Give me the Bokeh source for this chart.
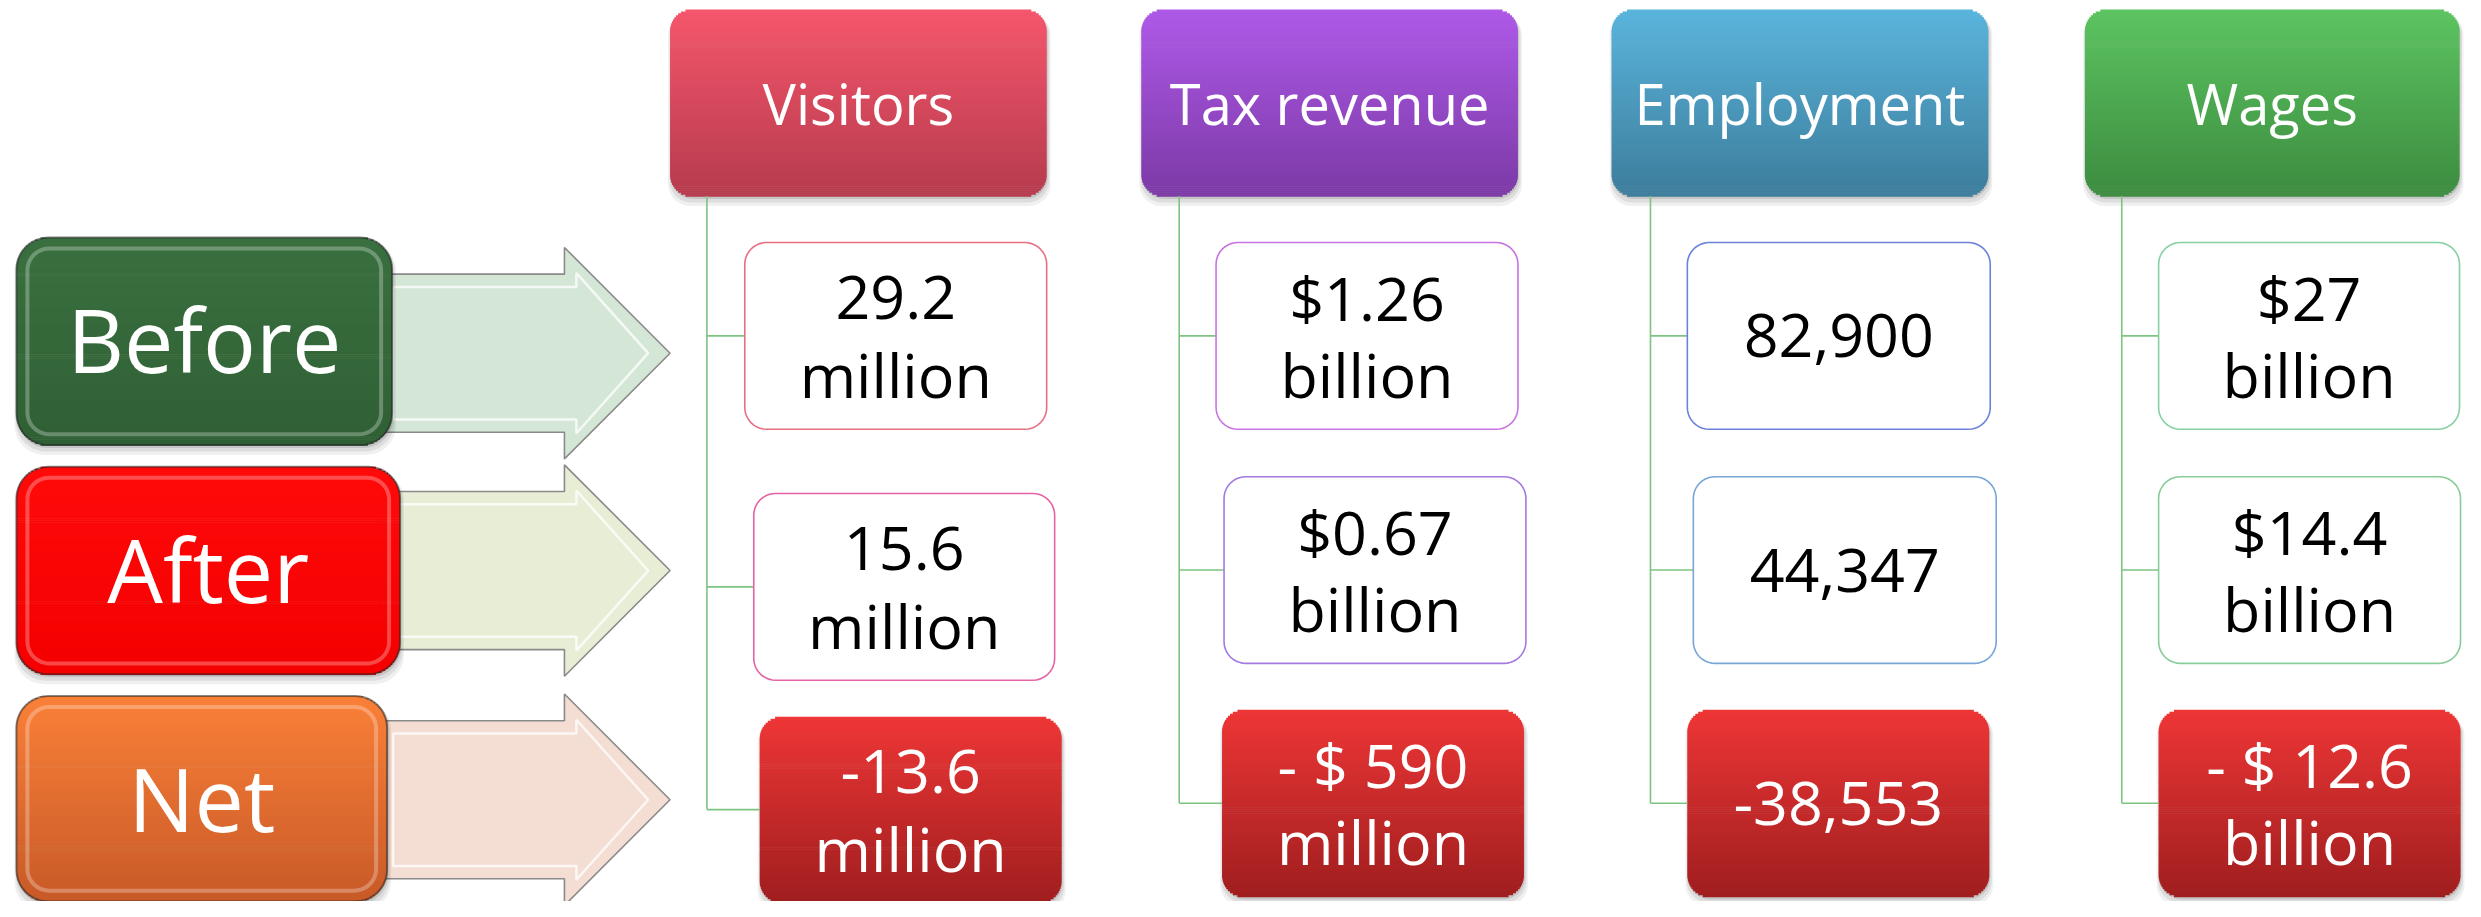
import math
from bokeh.plotting import figure
from bokeh.models import ColumnDataSource, Range1d
from bokeh.core.properties import value
from bokeh.embed import file_html
from bokeh.resources import INLINE

# ---------------- data ----------------
categories = ["Visitors", "Tax revenue", "Employment", "Wages"]
row_labels = ["Before", "After", "Net"]
before_vals = ["29.2\nmillion", "$1.26\nbillion", "82,900", "$27\nbillion"]
after_vals = ["15.6\nmillion", "$0.67\nbillion", "44,347", "$14.4\nbillion"]
net_vals = ["-13.6\nmillion", "- $ 590\nmillion", "-38,553", "- $ 12.6\nbillion"]

# ---------------- styles ----------------
header_top = ["#F5566C", "#AE59E8", "#5AB4DC", "#5CC460"]
header_bot = ["#B63B4D", "#7C3AA6", "#3D7D9C", "#3D8C40"]
border_before = ["#E8707E", "#C774E0", "#6A82DC", "#86D0A4"]
border_after = ["#E562A4", "#A57AE0", "#78A6D6", "#88CC98"]
row_top = ["#3A7040", "#FF0A0A", "#FA8038"]
row_bot = ["#2F6034", "#F40000", "#C85A28"]
arrow_fill = ["#D4E7D7", "#E8EDD6", "#F4DDD3"]
FONT = value("Open Sans")

W, H = 2465, 901
p = figure(width=W, height=H, x_range=Range1d(0, 2474), y_range=Range1d(912, 0),
           output_backend="svg", toolbar_location=None, min_border=0,
           x_axis_location=None, y_axis_location=None)
p.grid.visible = False
p.outline_line_color = None
p.background_fill_color = "white"


def hex2rgb(h):
    h = h.lstrip("#")
    return tuple(int(h[i:i + 2], 16) for i in (0, 2, 4))


def mix(c1, c2, t):
    a, b = hex2rgb(c1), hex2rgb(c2)
    return "#%02x%02x%02x" % tuple(int(round(a[i] + (b[i] - a[i]) * t)) for i in range(3))


def rr(x0, y0, x1, y1, r, n=10):
    xs, ys = [], []
    corners = [((x0 + r, y0 + r), math.pi, 1.5 * math.pi),
               ((x1 - r, y0 + r), 1.5 * math.pi, 2 * math.pi),
               ((x1 - r, y1 - r), 0, 0.5 * math.pi),
               ((x0 + r, y1 - r), 0.5 * math.pi, math.pi)]
    for (cx, cy), a0, a1 in corners:
        for k in range(n + 1):
            t = a0 + (a1 - a0) * k / n
            xs.append(cx + r * math.cos(t))
            ys.append(cy + r * math.sin(t))
    return xs, ys


strips = dict(left=[], right=[], top=[], bottom=[], color=[])


def grad(x0, y0, x1, y1, r, ctop, cbot, step=2.0):
    n = max(2, int((y1 - y0) / step))
    for i in range(n):
        ya = y0 + (y1 - y0) * i / n
        yb = y0 + (y1 - y0) * (i + 1) / n
        ym = (ya + yb) / 2
        inset = 0.0
        if ym < y0 + r:
            d = y0 + r - ym
            inset = r - math.sqrt(max(r * r - d * d, 0))
        elif ym > y1 - r:
            d = ym - (y1 - r)
            inset = r - math.sqrt(max(r * r - d * d, 0))
        strips["left"].append(x0 + inset)
        strips["right"].append(x1 - inset)
        strips["top"].append(ya)
        strips["bottom"].append(yb + 0.7)
        strips["color"].append(mix(ctop, cbot, i / (n - 1)))


shadows = dict(xs=[], ys=[], alpha=[])


def shadow(x0, y0, x1, y1, r):
    for off, grow, a in [(7, 3, 0.06), (5, 1.5, 0.08), (3, 0, 0.10)]:
        xs, ys = rr(x0 - grow + 1, y0 + off - grow, x1 + grow + 1, y1 + off + grow, r)
        shadows["xs"].append(xs)
        shadows["ys"].append(ys)
        shadows["alpha"].append(a)


# ---------------- layout ----------------
line_x = [709, 1183, 1656, 2129]
hdr_x = [(672, 1050), (1145, 1523), (1617, 1995), (2092, 2468)]
hdr_y = (9, 198)
box_x = [[(747, 1050), (1220, 1523), (1693, 1997), (2166, 2468)],
         [(756, 1058), (1228, 1531), (1699, 2003), (2166, 2469)],
         [(762, 1065), (1226, 1529), (1693, 1996), (2166, 2469)]]
box_y = [[(245, 434)] * 4,
         [(499, 688), (482, 671), (482, 671), (482, 671)],
         [(725, 913), (718, 907), (718, 907), (718, 907)]]
left_box = [(16, 240, 393, 450), (16, 472, 401, 682), (16, 704, 388, 912)]
arrow_yc = [357, 577, 809]

# ---------------- arrows ----------------
ax0, axh, axt, bh, hh = 380, 566, 672, 80, 107
arr_xs, arr_ys, in_xs, in_ys = [], [], [], []
for yc in arrow_yc:
    arr_xs.append([ax0, axh, axh, axt, axh, axh, ax0])
    arr_ys.append([yc - bh, yc - bh, yc - hh, yc, yc + hh, yc + bh, yc + bh])
    ib, ih = bh - 13, hh - 26
    in_xs.append([ax0 + 14, axh + 12, axh + 12, axt - 22, axh + 12, axh + 12, ax0 + 14, ax0 + 14])
    in_ys.append([yc - ib, yc - ib, yc - ih, yc, yc + ih, yc + ib, yc + ib, yc - ib])
p.patches(arr_xs, arr_ys, fill_color=arrow_fill, line_color="#8A8A8A", line_width=1.6)
p.multi_line(in_xs, in_ys, line_color="white", line_alpha=0.75, line_width=2.5)

# ---------------- shadows + gradients ----------------
for i in range(4):
    shadow(hdr_x[i][0], hdr_y[0], hdr_x[i][1], hdr_y[1], 22)
    shadow(box_x[2][i][0], box_y[2][i][0], box_x[2][i][1], box_y[2][i][1], 22)
for (x0, y0, x1, y1) in left_box:
    shadow(x0, y0, x1, y1, 30)
p.patches("xs", "ys", source=ColumnDataSource(shadows), fill_color="black",
          fill_alpha="alpha", line_color=None)

for i in range(4):
    grad(hdr_x[i][0], hdr_y[0], hdr_x[i][1], hdr_y[1], 22, header_top[i], header_bot[i])
    grad(box_x[2][i][0], box_y[2][i][0], box_x[2][i][1], box_y[2][i][1], 22, "#EE3636", "#A01E1F")
for k, (x0, y0, x1, y1) in enumerate(left_box):
    grad(x0, y0, x1, y1, 32, row_top[k], row_bot[k])
p.quad(left="left", right="right", top="top", bottom="bottom", source=ColumnDataSource(strips),
       fill_color="color", line_color=None)

# bevel for left boxes
bev_xs, bev_ys, out_xs, out_ys = [], [], [], []
for (x0, y0, x1, y1) in left_box:
    xs, ys = rr(x0 + 11, y0 + 11, x1 - 11, y1 - 11, 22)
    bev_xs.append(xs + [xs[0]]); bev_ys.append(ys + [ys[0]])
    xs, ys = rr(x0, y0, x1, y1, 32)
    out_xs.append(xs + [xs[0]]); out_ys.append(ys + [ys[0]])
p.multi_line(bev_xs, bev_ys, line_color="white", line_alpha=0.28, line_width=4)
p.multi_line(out_xs, out_ys, line_color="#222222", line_alpha=0.55, line_width=2)

# ---------------- connectors ----------------
conn_xs, conn_ys = [], []
for i in range(4):
    ymid_last = (box_y[2][i][0] + box_y[2][i][1]) / 2
    conn_xs.append([line_x[i], line_x[i]])
    conn_ys.append([hdr_y[1], ymid_last])
    for r in range(3):
        ym = (box_y[r][i][0] + box_y[r][i][1]) / 2
        conn_xs.append([line_x[i], box_x[r][i][0]])
        conn_ys.append([ym, ym])
p.multi_line(conn_xs, conn_ys, line_color="#7DC481", line_width=1.6)

# ---------------- white value boxes ----------------
wb_xs, wb_ys, wb_col = [], [], []
for r, cols in enumerate([border_before, border_after]):
    for i in range(4):
        xs, ys = rr(box_x[r][i][0], box_y[r][i][0], box_x[r][i][1], box_y[r][i][1], 22)
        wb_xs.append(xs); wb_ys.append(ys); wb_col.append(cols[i])
p.patches(wb_xs, wb_ys, fill_color="white", line_color=wb_col, line_width=1.6)

# ---------------- texts ----------------
p.text(x=[(a + b) / 2 for a, b in hdr_x], y=[104] * 4, text=categories,
       text_font=FONT, text_font_size="56px", text_color="white",
       text_align="center", text_baseline="middle")

p.text(x=[(b[0] + b[2]) / 2 for b in left_box], y=[343, 575, 807], text=row_labels,
       text_font=FONT, text_font_size="88px", text_color="white",
       text_align="center", text_baseline="middle")

tx, ty, tt, tc = [], [], [], []
for r, vals in enumerate([before_vals, after_vals, net_vals]):
    for i in range(4):
        cx = (box_x[r][i][0] + box_x[r][i][1]) / 2
        cy = (box_y[r][i][0] + box_y[r][i][1]) / 2
        lines = vals[i].split("\n")
        offs = [0] if len(lines) == 1 else [-39, 39]
        for ln, o in zip(lines, offs):
            tx.append(cx); ty.append(cy + o); tt.append(ln)
            tc.append("white" if r == 2 else "black")
p.text(x="x", y="y", text="t", text_color="c",
       source=ColumnDataSource(dict(x=tx, y=ty, t=tt, c=tc)),
       text_font=FONT, text_font_size="61px", text_align="center", text_baseline="middle")

open("out.html", "w").write(file_html(p, INLINE))
